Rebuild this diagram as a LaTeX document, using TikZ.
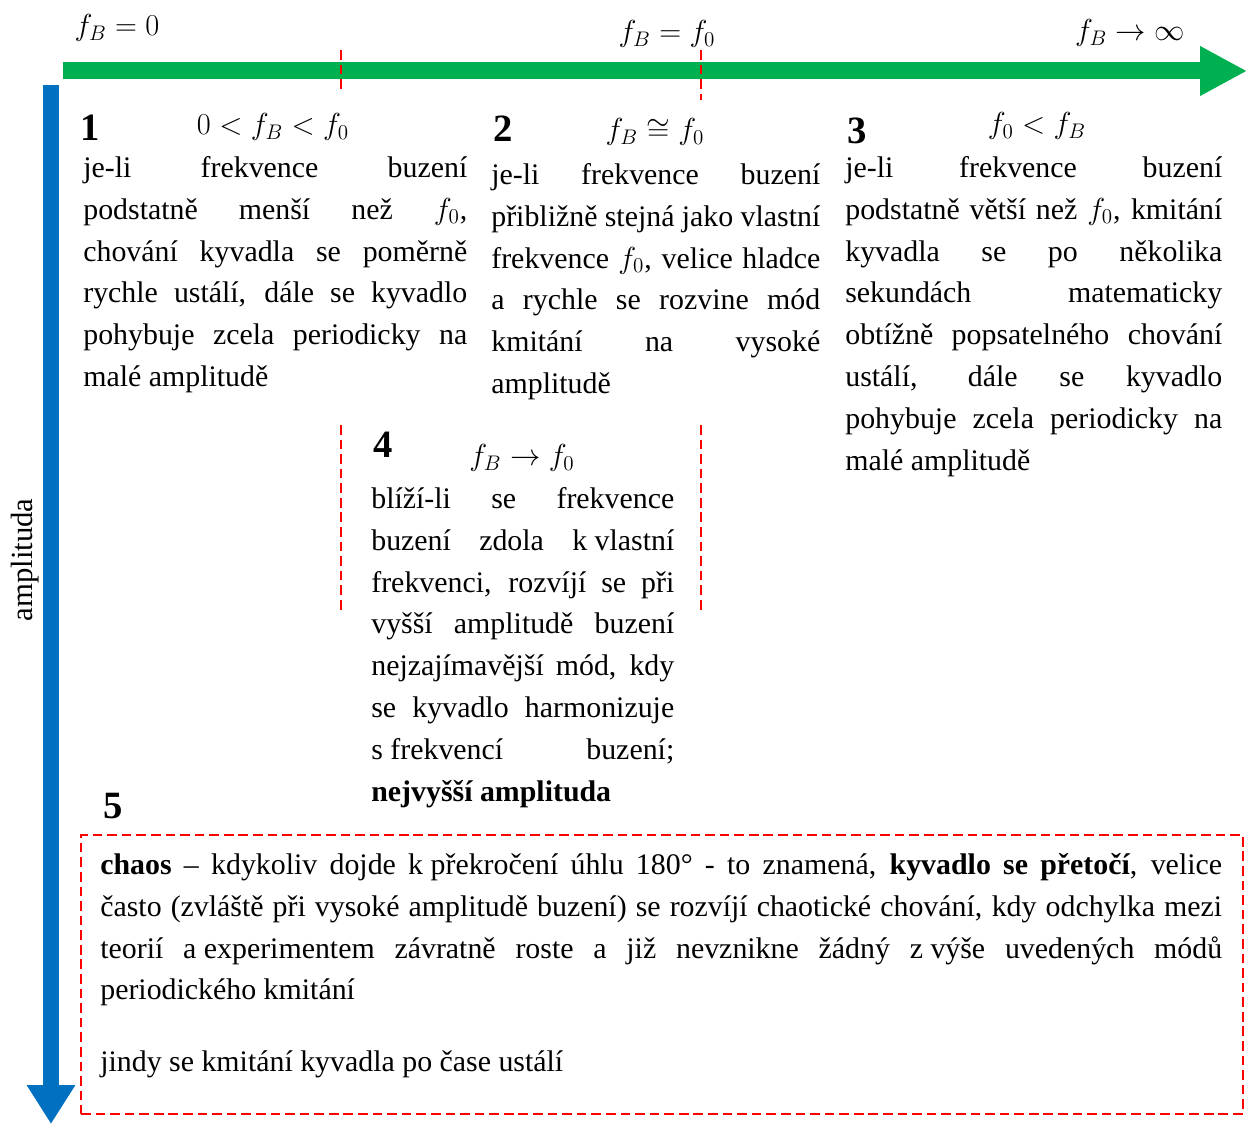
\documentclass[tikz,border=0pt]{standalone}
\usepackage{fontspec}
\setmainfont{Liberation Serif}
\usepackage{xcolor}
\usetikzlibrary{arrows.meta}
\definecolor{axisgreen}{RGB}{0,176,80}
\definecolor{axisblue}{RGB}{0,112,192}

\begin{document}
\begin{tikzpicture}[x=0.02cm,y=-0.02cm,
  freq/.style={-{Triangle[length=9.4mm,width=9.4mm]},draw=axisgreen,line width=3.4mm},
  ampl/.style={-{Triangle[length=7.8mm,width=9.2mm]},draw=axisblue,line width=3.2mm},
  border/.style={draw=red,line width=1.1pt,dash pattern=on 5.5pt off 2.8pt},
  num/.style={font=\fontsize{22}{26}\selectfont\bfseries,inner sep=0pt},
  cond/.style={font=\fontsize{17.5}{20}\selectfont,inner sep=0pt},
  para/.style={font=\fontsize{17}{23.8}\selectfont,align=justify,inner sep=0pt,anchor=north west}]
  \useasboundingbox (0,0) rectangle (1249,1124);
  % axes
  \coordinate (gstart) at (63,71);
  \coordinate (gend) at (1247,71);
  \coordinate (bstart) at (51,85);
  \coordinate (bend) at (51,1124);
  \draw[freq] (gstart) -- (gend);
  \draw[ampl] (bstart) -- (bend);
  \node[cond] (fzero) at (117,28) {$f_B=0$};
  \node[cond] (fres) at (667,34) {$f_B=f_0$};
  \node[cond] (finf) at (1130,33) {$f_B\to\infty$};
  \node[cond,rotate=90] (amp) at (25,560) {amplituda};
  % dividers
  \draw[border] (341,50) -- (341,90);
  \draw[border] (701,50) -- (701,100);
  \draw[border] (341,425) -- (341,610);
  \draw[border] (701,425) -- (701,610);
  % mode 1
  \node[num] (n1) at (90,128) {1};
  \node[cond] (c1) at (273,127) {$0<f_B<f_0$};
  \node[para,text width=7.68cm] (t1) at (83,156) {je-li frekvence buzení\linebreak
    podstatně menší než $f_0$,\linebreak
    chování kyvadla se poměrně\linebreak
    rychle ustálí, dále se kyvadlo\linebreak
    pohybuje zcela periodicky na\linebreak
    malé amplitudě};
  % mode 2
  \node[num] (n2) at (503,129) {2};
  \node[cond] (c2) at (655,132) {$f_B\cong f_0$};
  \node[para,text width=6.58cm] (t2) at (491,163) {je-li frekvence buzení\linebreak
    přibližně stejná jako vlastní\linebreak
    frekvence $f_0$, velice hladce\linebreak
    a~rychle se rozvine mód\linebreak
    kmitání na vysoké\linebreak
    amplitudě};
  % mode 3
  \node[num] (n3) at (857,131) {3};
  \node[cond] (c3) at (1037,126) {$f_0<f_B$};
  \node[para,text width=7.54cm] (t3) at (845,156) {je-li frekvence buzení\linebreak
    podstatně větší než $f_0$, kmitání\linebreak
    kyvadla se po několika\linebreak
    sekundách matematicky\linebreak
    obtížně popsatelného chování\linebreak
    ustálí, dále se kyvadlo\linebreak
    pohybuje zcela periodicky na\linebreak
    malé amplitudě};
  % mode 4
  \node[num] (n4) at (383,445) {4};
  \node[cond] (c4) at (522,458) {$f_B\to f_0$};
  \node[para,text width=6.06cm] (t4) at (371,487) {blíží-li se frekvence\linebreak
    buzení zdola \mbox{k vlastní}\linebreak
    frekvenci, rozvíjí se při\linebreak
    vyšší amplitudě buzení\linebreak
    nejzajímavější mód, kdy\linebreak
    se kyvadlo harmonizuje\linebreak
    \mbox{s frekvencí} buzení;\linebreak
    \textbf{nejvyšší amplituda}};
  % mode 5
  \node[num] (n5) at (113,806) {5};
  \node[border,inner sep=0pt,minimum width=23.24cm,minimum height=5.58cm,anchor=north west] (frame) at (80,834) {};
  \node[para,text width=22.44cm] (t5) at (100,853) {\textbf{chaos} – kdykoliv dojde \mbox{k překročení} úhlu 180° - to znamená, \textbf{kyvadlo se přetočí}, velice\linebreak
    často (zvláště při vysoké amplitudě buzení) se rozvíjí chaotické chování, kdy odchylka mezi\linebreak
    teorií \mbox{a experimentem} závratně roste a~již nevznikne žádný \mbox{z výše} uvedených módů\linebreak
    periodického kmitání\par\vspace{17pt}\noindent
    jindy se kmitání kyvadla po čase ustálí};
\end{tikzpicture}
\end{document}
